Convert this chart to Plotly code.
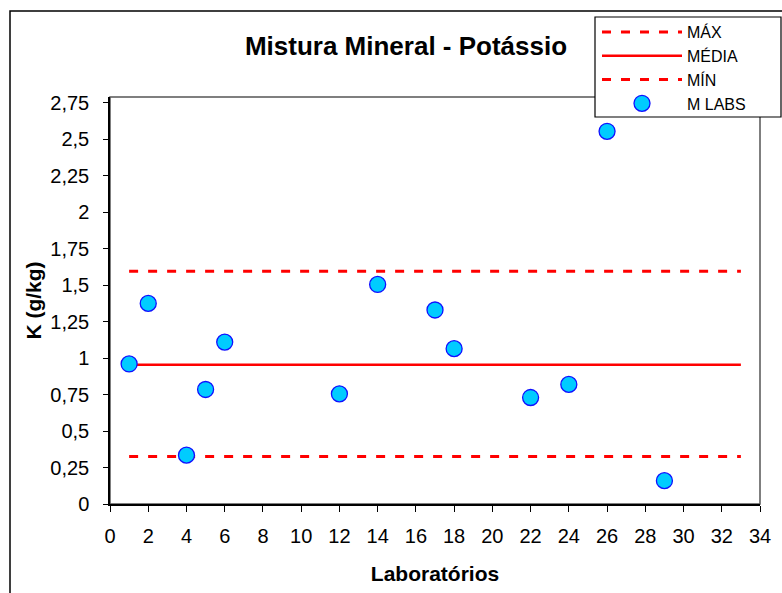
import plotly.graph_objects as go

# Data
labs = [1, 2, 4, 5, 6, 12, 14, 17, 18, 22, 24, 26, 29]
k_values = [0.96, 1.375, 0.335, 0.785, 1.11, 0.755, 1.505, 1.33, 1.065, 0.73, 0.82, 2.555, 0.16]
line_x = [1, 33]
max_value = 1.595
mean_value = 0.955
min_value = 0.325

x_ticks = list(range(0, 35, 2))

W, H = 782, 593
L, R, T, B = 110, 22, 97, 89
PW, PH = W - L - R, H - T - B


def px_x(p):
    return (p - L) / PW


def px_y(p):
    return (H - B - p) / PH


FONT = "Liberation Sans, Arial, sans-serif"

fig = go.Figure()
fig.add_trace(go.Scatter(x=line_x, y=[max_value] * len(line_x), mode="lines", name="MÁX",
                         line=dict(color="#FF0000", width=3, dash="9px,10px")))
fig.add_trace(go.Scatter(x=line_x, y=[mean_value] * len(line_x), mode="lines", name="MÉDIA",
                         line=dict(color="#FF0000", width=2.5)))
fig.add_trace(go.Scatter(x=line_x, y=[min_value] * len(line_x), mode="lines", name="MÍN",
                         line=dict(color="#FF0000", width=3, dash="9px,10px")))
fig.add_trace(go.Scatter(x=labs, y=k_values, mode="markers", name="M LABS",
                         marker=dict(size=16, color="#00CCFF", line=dict(color="#1010FF", width=1.3))))

shapes = [
    # plot-area frame
    dict(type="rect", xref="paper", yref="paper", x0=0, x1=1, y0=0, y1=1,
         line=dict(color="#555555", width=1.5), layer="below"),
    # outer chart frame
    dict(type="rect", xref="paper", yref="paper", x0=px_x(10), x1=px_x(800), y0=px_y(610), y1=px_y(11),
         line=dict(color="#000000", width=1.5)),
    # legend box
    dict(type="rect", xref="paper", yref="paper", x0=px_x(595), x1=px_x(781), y0=px_y(117), y1=px_y(17),
         line=dict(color="#000000", width=1.2), fillcolor="#FFFFFF"),
]

fig.update_layout(
    width=W, height=H,
    margin=dict(l=L, r=R, t=T, b=B, autoexpand=False),
    paper_bgcolor="#FFFFFF", plot_bgcolor="#FFFFFF",
    separators=",.",
    font=dict(family=FONT, color="#000000", size=20),
    title=dict(text="Mistura Mineral - Potássio", x=406 / W, xanchor="center",
               y=1 - 46 / H, yanchor="middle",
               font=dict(family=FONT, size=26, weight="bold", color="#000000")),
    showlegend=True,
    legend=dict(x=px_x(597), y=px_y(15), xanchor="left", yanchor="top",
                bgcolor="rgba(0,0,0,0)", borderwidth=0, itemwidth=80,
                font=dict(family=FONT, size=16, color="#000000"),
                traceorder="normal"),
    shapes=shapes,
)

fig.update_xaxes(range=[0, 34], tickvals=x_ticks, ticktext=[str(v) for v in x_ticks],
                 showgrid=False, zeroline=False, showline=True, linecolor="#000000", linewidth=1.5,
                 ticks="outside", ticklen=6, tickcolor="#000000", tickwidth=1.2,
                 tickfont=dict(family=FONT, size=20), ticklabelstandoff=7,
                 title=dict(text="Laboratórios", standoff=21,
                            font=dict(family=FONT, size=21, weight="bold")))
fig.update_yaxes(range=[0, 2.79], tick0=0, dtick=0.25,
                 showgrid=False, zeroline=False, showline=True, linecolor="#000000", linewidth=1.5,
                 ticks="outside", ticklen=5, tickcolor="#000000", tickwidth=1.2,
                 tickfont=dict(family=FONT, size=20), ticklabelstandoff=10,
                 title=dict(text="K (g/kg)", standoff=3,
                            font=dict(family=FONT, size=21, weight="bold")))

fig.write_html("out.html", config={"displayModeBar": False},
               post_script="document.body.style.margin='0';")
